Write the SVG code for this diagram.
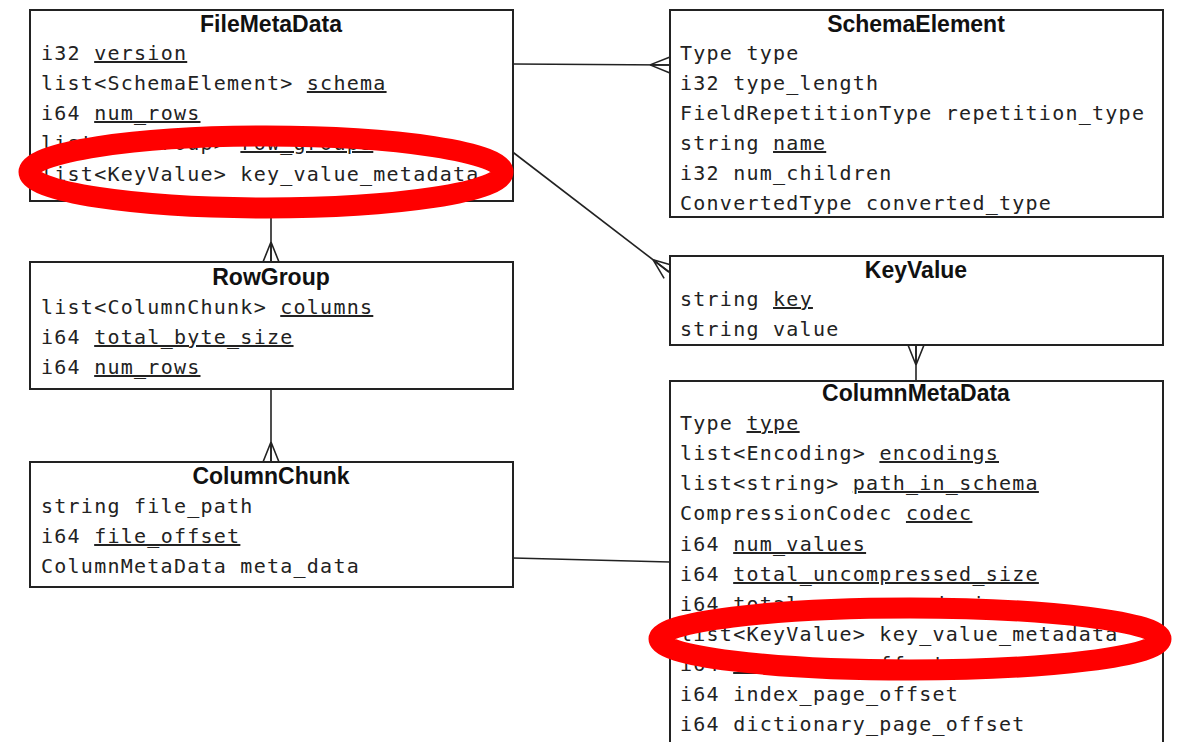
<svg xmlns="http://www.w3.org/2000/svg" width="1178" height="742" viewBox="0 0 1178 742">
<style>
.box{fill:#fff;stroke:#222;stroke-width:2}
.title{font-family:"Liberation Sans",Arial,sans-serif;font-weight:bold;font-size:23px;fill:#111;text-anchor:middle}
.f{font-family:"DejaVu Sans Mono","Liberation Mono",monospace;font-size:20px;letter-spacing:1.25px;fill:#222}
.u{text-decoration:underline}
.conn{stroke:#222;stroke-width:1.6;fill:none}
.ring{fill:none;stroke:#f00;stroke-width:21}
</style>
<defs>
<marker id="crow" viewBox="-2 -10 24 20" refX="20" refY="0" markerWidth="24" markerHeight="20" markerUnits="userSpaceOnUse" orient="auto" overflow="visible">
<path d="M0,0 L20,-8 M0,0 L20,0 M0,0 L20,8" fill="none" stroke="#222" stroke-width="1.6"/>
</marker>
</defs>
<rect width="1178" height="742" fill="#fff"/>
<g id="connectors">
<line class="conn" x1="513" y1="64" x2="670" y2="65" marker-end="url(#crow)"/>
<line class="conn" x1="271" y1="201" x2="271" y2="262" marker-end="url(#crow)"/>
<line class="conn" x1="271" y1="389" x2="271" y2="462" marker-end="url(#crow)"/>
<line class="conn" x1="510" y1="150" x2="669" y2="272" marker-end="url(#crow)"/>
<line class="conn" x1="513" y1="558" x2="670" y2="562"/>
<line class="conn" x1="916" y1="381" x2="916" y2="345" marker-end="url(#crow)"/>
</g>
<g id="FileMetaData">
<rect class="box" x="30" y="10" width="483" height="191"/>
<text class="title" x="271" y="32">FileMetaData</text>
<text class="f" x="41" y="60">i32 <tspan class="u">version</tspan></text>
<text class="f" x="41" y="90">list&lt;SchemaElement&gt; <tspan class="u">schema</tspan></text>
<text class="f" x="41" y="120">i64 <tspan class="u">num_rows</tspan></text>
<text class="f" x="41" y="150">list&lt;RowGroup&gt; <tspan class="u">row_groups</tspan></text>
<text class="f" x="41" y="181">list&lt;KeyValue&gt; key_value_metadata</text>
</g>
<g id="SchemaElement">
<rect class="box" x="670" y="10" width="493" height="207"/>
<text class="title" x="916" y="32">SchemaElement</text>
<text class="f" x="680" y="60">Type type</text>
<text class="f" x="680" y="90">i32 type_length</text>
<text class="f" x="680" y="120">FieldRepetitionType repetition_type</text>
<text class="f" x="680" y="150">string <tspan class="u">name</tspan></text>
<text class="f" x="680" y="180">i32 num_children</text>
<text class="f" x="680" y="210">ConvertedType converted_type</text>
</g>
<g id="RowGroup">
<rect class="box" x="30" y="262" width="483" height="127"/>
<text class="title" x="271" y="285">RowGroup</text>
<text class="f" x="41" y="314">list&lt;ColumnChunk&gt; <tspan class="u">columns</tspan></text>
<text class="f" x="41" y="344">i64 <tspan class="u">total_byte_size</tspan></text>
<text class="f" x="41" y="374">i64 <tspan class="u">num_rows</tspan></text>
</g>
<g id="ColumnChunk">
<rect class="box" x="30" y="462" width="483" height="125"/>
<text class="title" x="271" y="484">ColumnChunk</text>
<text class="f" x="41" y="513">string file_path</text>
<text class="f" x="41" y="543">i64 <tspan class="u">file_offset</tspan></text>
<text class="f" x="41" y="573">ColumnMetaData meta_data</text>
</g>
<g id="KeyValue">
<rect class="box" x="670" y="256" width="493" height="89"/>
<text class="title" x="916" y="278">KeyValue</text>
<text class="f" x="680" y="306">string <tspan class="u">key</tspan></text>
<text class="f" x="680" y="336">string value</text>
</g>
<g id="ColumnMetaData">
<rect class="box" x="670" y="381" width="493" height="390"/>
<text class="title" x="916" y="401">ColumnMetaData</text>
<text class="f" x="680" y="430">Type <tspan class="u">type</tspan></text>
<text class="f" x="680" y="460">list&lt;Encoding&gt; <tspan class="u">encodings</tspan></text>
<text class="f" x="680" y="490">list&lt;string&gt; <tspan class="u">path_in_schema</tspan></text>
<text class="f" x="680" y="520">CompressionCodec <tspan class="u">codec</tspan></text>
<text class="f" x="680" y="551">i64 <tspan class="u">num_values</tspan></text>
<text class="f" x="680" y="581">i64 <tspan class="u">total_uncompressed_size</tspan></text>
<text class="f" x="680" y="611">i64 <tspan class="u">total_compressed_size</tspan></text>
<text class="f" x="680" y="641">list&lt;KeyValue&gt; key_value_metadata</text>
<text class="f" x="680" y="671">i64 <tspan class="u">data_page_offset</tspan></text>
<text class="f" x="680" y="701">i64 index_page_offset</text>
<text class="f" x="680" y="731">i64 dictionary_page_offset</text>
</g>
<g id="highlights">
<ellipse class="ring" cx="266" cy="172" rx="237" ry="36"/>
<ellipse class="ring" cx="910" cy="639" rx="251" ry="31"/>
</g>
</svg>
